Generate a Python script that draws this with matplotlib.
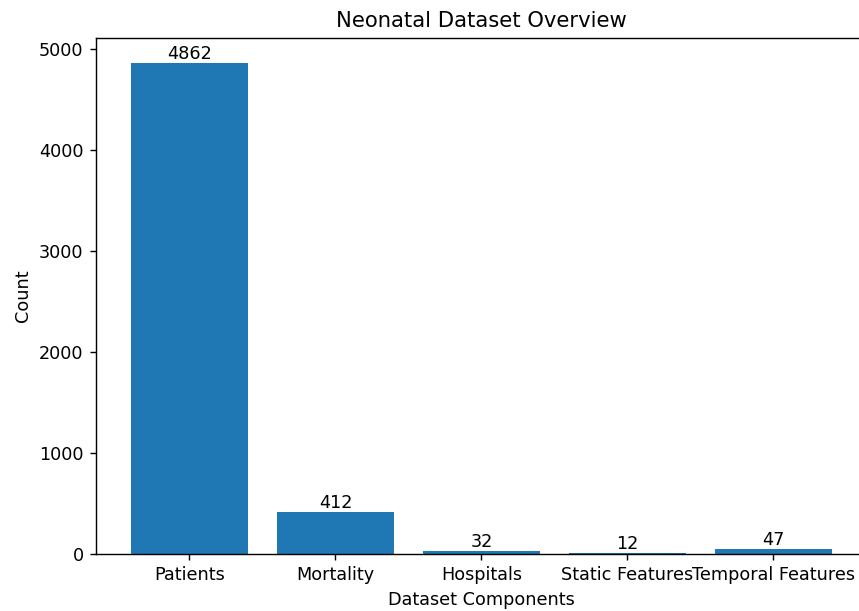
import matplotlib
matplotlib.use('Agg')
import matplotlib.pyplot as plt

categories = ['Patients', 'Mortality', 'Hospitals', 'Static Features', 'Temporal Features']
counts = [4862, 412, 32, 12, 47]

dpi = 127
fig = plt.figure(figsize=(859 / dpi, 611 / dpi), dpi=dpi)
# the reference is cropped on the right, so the axes run slightly past the figure edge
ax = fig.add_axes([96 / 859, 57 / 611, 770.8 / 859, 516 / 611])

bars = ax.bar(categories, counts, color='#1f77b4')
ax.bar_label(bars)

ax.set_title('Neonatal Dataset Overview')
ax.set_xlabel('Dataset Components')
ax.set_ylabel('Count')

fig.savefig('out.png', dpi=dpi)
